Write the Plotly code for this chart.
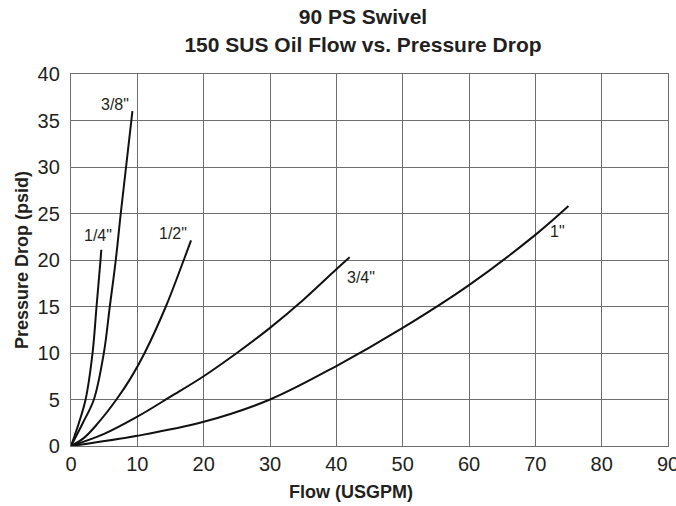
import plotly.graph_objects as go

# =========================================================
# DATA
# =========================================================
sizes = ['1/4"', '3/8"', '1/2"', '3/4"', '1"']

flow_14 = [0, 1.2, 2.2, 3.25, 3.85, 4.45, 4.57]
dp_14 = [0, 2.5, 5, 10, 15, 20, 21.1]

flow_38 = [0, 1.8, 3.45, 4.95, 5.85, 6.75, 7.5, 8.3, 9.1, 9.26]
dp_38 = [0, 2.5, 5, 10, 15, 20, 25, 30, 35, 36]

flow_12 = [0, 2, 4, 6.85, 9, 11.1, 14.3, 17.0, 18.1]
dp_12 = [0, 0.9, 2.4, 5, 7.3, 10, 15, 20, 22.1]

flow_34 = [0, 5, 10, 15, 20, 25, 30, 35, 40, 42]
dp_34 = [0, 1.3, 3.15, 5.3, 7.5, 10, 12.7, 15.7, 19.0, 20.3]

flow_1 = [0, 10, 20, 30, 40, 50, 60, 70, 75]
dp_1 = [0, 1.1, 2.6, 5.0, 8.6, 12.7, 17.3, 22.7, 25.8]

flows = [flow_14, flow_38, flow_12, flow_34, flow_1]
drops = [dp_14, dp_38, dp_12, dp_34, dp_1]

# where each size label sits (data coords)
label_pos = {
    '1/4"': (4.1, 22.65),
    '3/8"': (6.7, 36.7),
    '1/2"': (15.4, 22.9),
    '3/4"': (43.75, 18.1),
    '1"': (73.4, 23.05),
}

# =========================================================
# STYLE
# =========================================================
FONT = "Liberation Sans, Arial, Helvetica, sans-serif"
TEXT = "#231f20"
GRID = "#6e6e6e"

fig = go.Figure()

for name, x, y in zip(sizes, flows, drops):
    fig.add_trace(
        go.Scatter(
            x=x,
            y=y,
            mode="lines",
            name=name,
            line=dict(color="#111111", width=2, shape="spline", smoothing=1.0),
            showlegend=False,
            hovertemplate=name + "<br>Flow: %{x} USGPM<br>Drop: %{y} psid<extra></extra>",
        )
    )

for name in sizes:
    lx, ly = label_pos[name]
    fig.add_annotation(
        x=lx, y=ly, xref="x", yref="y",
        text=name, showarrow=False,
        font=dict(family=FONT, size=16, color=TEXT),
        xanchor="center", yanchor="middle",
    )

# x axis title, sits a bit left of the plot centre in the original
fig.add_annotation(
    x=0.469, y=-0.124, xref="paper", yref="paper",
    text="<b>Flow (USGPM)</b>", showarrow=False,
    font=dict(family=FONT, size=18, color=TEXT),
    xanchor="center", yanchor="middle",
)

axis_common = dict(
    showgrid=True,
    gridcolor=GRID,
    gridwidth=1.3,
    showline=True,
    linecolor=GRID,
    linewidth=1.3,
    mirror=True,
    zeroline=False,
    ticks="",
    automargin=False,
    ticklabeloverflow="allow",
    tickfont=dict(family=FONT, size=20, color=TEXT),
)

fig.update_layout(
    width=676,
    height=506,
    margin=dict(l=71, r=8, t=74, b=60),
    paper_bgcolor="white",
    plot_bgcolor="white",
    font=dict(family=FONT, color=TEXT),
    title=dict(
        text="<b>90 PS Swivel<br>150 SUS Oil Flow vs. Pressure Drop</b>",
        x=0.537, xanchor="center",
        y=0.952, yanchor="middle",
        font=dict(family=FONT, size=21, color=TEXT),
    ),
    xaxis=dict(range=[0, 90], dtick=10, tick0=0, **axis_common),
    yaxis=dict(
        range=[0, 40], dtick=5, tick0=0,
        ticklabelstandoff=6,
        title=dict(text="<b>Pressure Drop (psid)</b>", standoff=4,
                   font=dict(family=FONT, size=18, color=TEXT)),
        **axis_common,
    ),
)

# drop the browser's default 8px body margin so the figure sits at the window corner
fig.write_html(
    "out.html",
    config={"displayModeBar": False},
    post_script="document.body.style.margin='0';",
)
